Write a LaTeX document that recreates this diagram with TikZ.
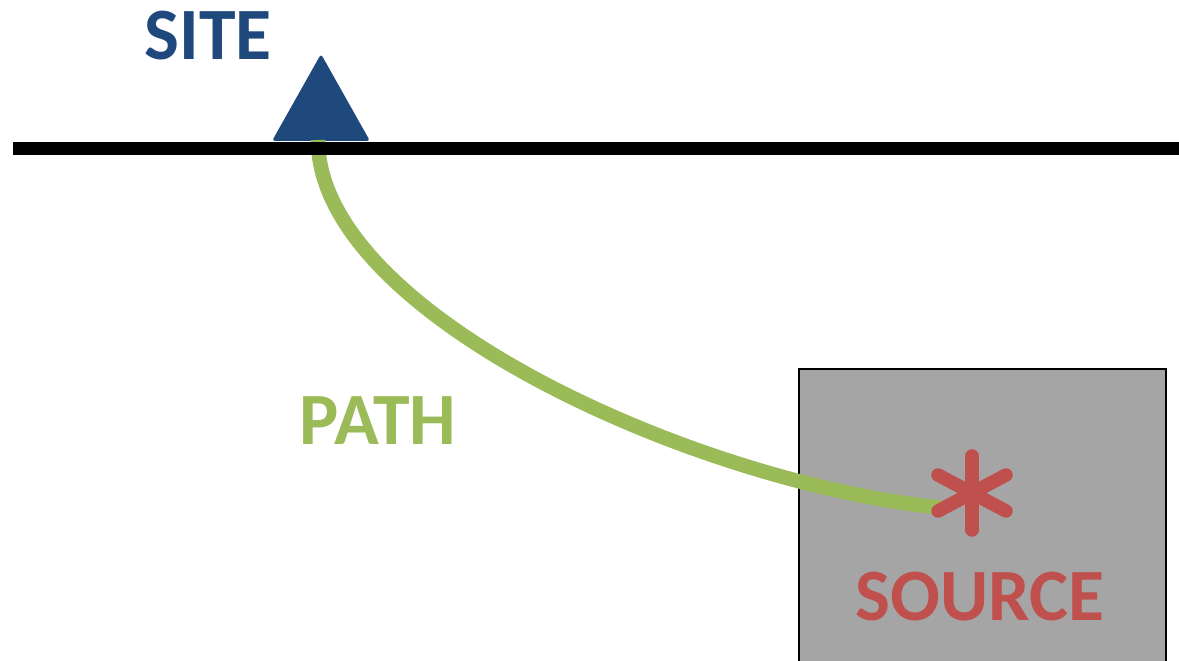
\documentclass[tikz,border=0pt]{standalone}
\usepackage{fontspec}
\setmainfont{Carlito}
\usepackage{tikz}
\usetikzlibrary{positioning}

\definecolor{siteblue}{HTML}{1F497D}
\definecolor{pathgreen}{HTML}{9BBB59}
\definecolor{srcred}{HTML}{C0504D}
\definecolor{boxgray}{HTML}{A5A5A5}

\begin{document}
\begin{tikzpicture}[x=0.02cm,y=-0.02cm,
    every node/.style={font=\fontsize{42}{50}\selectfont\bfseries, inner sep=0pt},
    spoke/.style={srcred, line width=0.27cm, line cap=round}]
            \useasboundingbox (0,0) rectangle (1179,661);

            % source region
            \draw[fill=boxgray, line width=0.04cm] (799,700) |- (1166,369) -- (1166,700);

            % site marker
            \fill[siteblue, rounded corners=0.06cm] (272,141) -- (321,54) -- (370,141) -- cycle;
            \coordinate (site) at (318,140);
            \coordinate (srcend) at (945,508);
            \coordinate (src) at (972,493);

            % path from source to site
            \draw[pathgreen, line width=0.29cm] (site) .. controls (318,315) and (700,485) .. (srcend);

            % ground surface
            \draw[line width=0.27cm] (13,148.5) -- (1179,148.5);

            % epicentre star
            \draw[spoke] (src) -- ++(0,-37);
            \draw[spoke] (src) -- ++(0,37);
            \draw[spoke] (src) -- ++(34,-18);
            \draw[spoke] (src) -- ++(-34,-18);
            \draw[spoke] (src) -- ++(34,18);
            \draw[spoke] (src) -- ++(-34,18);

            \node[siteblue] (sitelabel) at (208,36) {SITE};
            \node[pathgreen] (pathlabel) at (378,421) {PATH};
            \node[srcred] (srclabel) at (980,597) {SOURCE};
\end{tikzpicture}
\end{document}
